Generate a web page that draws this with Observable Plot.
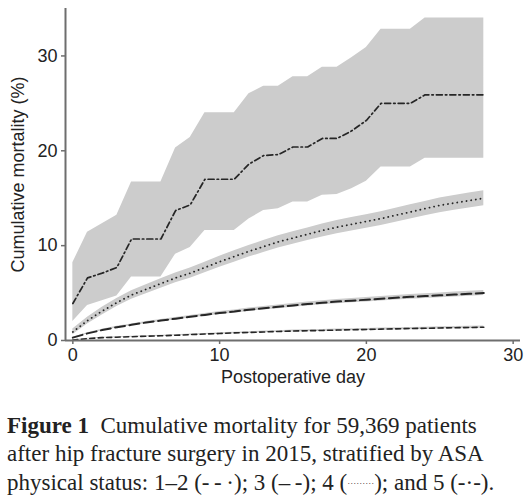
<!DOCTYPE html>
<html>
<head>
<meta charset="utf-8">
<script src="https://cdn.jsdelivr.net/npm/d3@7"></script>
<script src="https://cdn.jsdelivr.net/npm/@observablehq/plot@0.6"></script>
<style>
  html, body { margin: 0; padding: 0; background: #fff; }
  #chart { width: 528px; }
  #caption {
    font-family: "Liberation Serif", "DejaVu Serif", serif;
    font-size: 23px;
    line-height: 28.3px;
    color: #222;
    margin: 17px 0 0 7px;
    white-space: nowrap;
  }
  #caption b { font-weight: bold; }
  #caption .dots { font-size: 9px; letter-spacing: 0px; vertical-align: 4px; }
</style>
</head>
<body>
<div id="chart"></div>
<div id="caption">
  <b>Figure 1</b>&nbsp; Cumulative mortality for 59,369 patients<br>
  after hip fracture surgery in 2015, stratified by ASA<br>
  physical status: 1–2 (-&thinsp;-&thinsp;·); 3 (–&thinsp;-); 4 (<span class="dots">·········</span>); and 5 (-·-).
</div>
<script>
// Postoperative days 0–28
const days = [0,1,2,3,4,5,6,7,8,9,10,11,12,13,14,15,16,17,18,19,20,21,22,23,24,25,26,27,28];

// ASA 5: cumulative mortality (%) with 95% CI
const asa5    = [3.9,6.6,7.1,7.7,10.7,10.7,10.7,13.7,14.3,17.0,17.0,17.0,18.6,19.5,19.6,20.4,20.4,21.3,21.3,22.1,23.2,25.0,25.0,25.0,25.9,25.9,25.9,25.9,25.9];
const asa5Lo  = [2.0,3.7,4.2,4.7,6.7,6.7,6.7,9.1,9.8,11.6,11.6,11.6,12.8,13.7,13.9,14.6,14.6,15.3,15.4,16.0,16.8,18.3,18.3,18.3,19.2,19.2,19.2,19.2,19.2];
const asa5Hi  = [8.2,11.4,12.3,13.2,16.7,16.7,16.7,20.3,21.4,24.0,24.0,24.0,26.0,26.8,26.8,27.8,27.8,28.8,28.8,29.8,30.9,32.8,32.8,32.8,34.0,34.0,34.0,34.0,34.0];

// ASA 4
const asa4    = [0.9,2.1,3.1,4.0,4.8,5.4,6.0,6.6,7.1,7.7,8.3,8.85,9.4,9.9,10.4,10.8,11.2,11.6,11.95,12.25,12.55,12.85,13.2,13.55,13.9,14.25,14.5,14.75,15.0];
const asa4Lo  = [0.6,1.75,2.7,3.58,4.35,4.93,5.5,6.08,6.56,7.14,7.72,8.25,8.79,9.27,9.76,10.14,10.53,10.91,11.25,11.54,11.83,12.12,12.46,12.8,13.14,13.48,13.72,13.96,14.2];
const asa4Hi  = [1.2,2.45,3.5,4.42,5.25,5.87,6.5,7.12,7.64,8.26,8.88,9.45,10.01,10.53,11.04,11.46,11.87,12.29,12.65,12.96,13.27,13.58,13.94,14.3,14.66,15.02,15.28,15.54,15.8];

// ASA 3
const asa3    = [0.3,0.75,1.1,1.4,1.65,1.9,2.1,2.3,2.5,2.7,2.9,3.05,3.25,3.4,3.55,3.7,3.85,3.97,4.1,4.2,4.3,4.4,4.5,4.6,4.68,4.76,4.84,4.92,5.0];
const asa3Lo  = [0.25,0.68,1.02,1.31,1.55,1.79,1.98,2.17,2.36,2.55,2.74,2.88,3.07,3.22,3.36,3.5,3.64,3.76,3.88,3.97,4.07,4.16,4.26,4.35,4.43,4.5,4.58,4.66,4.74];
const asa3Hi  = [0.35,0.82,1.18,1.49,1.75,2.01,2.22,2.43,2.64,2.85,3.06,3.22,3.43,3.58,3.74,3.9,4.06,4.18,4.32,4.43,4.53,4.64,4.74,4.85,4.93,5.02,5.1,5.18,5.26];

// ASA 1–2
const asa12   = [0.05,0.2,0.3,0.35,0.4,0.45,0.5,0.55,0.62,0.68,0.74,0.8,0.85,0.9,0.95,1.0,1.03,1.06,1.1,1.13,1.16,1.2,1.23,1.26,1.29,1.32,1.35,1.37,1.4];
const asa12Lo = [0.03,0.16,0.25,0.3,0.35,0.39,0.44,0.49,0.55,0.61,0.66,0.72,0.77,0.81,0.86,0.9,0.93,0.96,0.99,1.02,1.05,1.09,1.11,1.14,1.17,1.2,1.23,1.25,1.28];
const asa12Hi = [0.07,0.24,0.35,0.4,0.45,0.51,0.56,0.61,0.69,0.75,0.82,0.88,0.93,0.99,1.04,1.1,1.13,1.16,1.21,1.24,1.27,1.31,1.35,1.38,1.41,1.44,1.47,1.49,1.52];

const xTicks = [0, 10, 20, 30];
const yTicks = [0, 10, 20, 30];

const rows = (mid, lo, hi) => days.map((d, i) => ({day: d, mid: mid[i], lo: lo[i], hi: hi[i]}));
const g5 = rows(asa5, asa5Lo, asa5Hi);
const g4 = rows(asa4, asa4Lo, asa4Hi);
const g3 = rows(asa3, asa3Lo, asa3Hi);
const g12 = rows(asa12, asa12Lo, asa12Hi);

const band = "#cccccc";
const ink = "#262626";
const axisGray = "#6e6e6e";

const chart = Plot.plot({
  width: 528,
  height: 395,
  marginLeft: 65,
  marginRight: 8,
  marginTop: 8,
  marginBottom: 55,
  style: {fontFamily: "'Liberation Sans', Arial, sans-serif", fontSize: "18px", color: "#222", background: "#fff"},
  x: {domain: [-0.5, 30.5]},
  y: {domain: [0, 35]},
  marks: [
    // confidence bands
    Plot.areaY(g5,  {x: "day", y1: "lo", y2: "hi", fill: band}),
    Plot.areaY(g4,  {x: "day", y1: "lo", y2: "hi", fill: band}),
    Plot.areaY(g3,  {x: "day", y1: "lo", y2: "hi", fill: band}),
    Plot.areaY(g12, {x: "day", y1: "lo", y2: "hi", fill: band}),
    // estimates
    Plot.lineY(g12, {x: "day", y: "mid", stroke: ink, strokeWidth: 1.6, strokeDasharray: "5,3.5"}),
    Plot.lineY(g3,  {x: "day", y: "mid", stroke: ink, strokeWidth: 2, strokeDasharray: "10,4.5"}),
    Plot.lineY(g4,  {x: "day", y: "mid", stroke: ink, strokeWidth: 1.8, strokeDasharray: "0.1,4.6", strokeLinecap: "round"}),
    Plot.lineY(g5,  {x: "day", y: "mid", stroke: ink, strokeWidth: 1.7, strokeDasharray: "6,3,1.5,3"}),
    // axis lines
    Plot.ruleX([-0.5], {y1: 0, y2: 35, stroke: axisGray, strokeWidth: 2}),
    Plot.ruleY([0], {x1: -0.5, x2: 30.5, stroke: axisGray, strokeWidth: 2}),
    Plot.axisX({ticks: xTicks, tickSize: 4, tickPadding: 4, stroke: axisGray, strokeWidth: 1.5, label: null, fontSize: 18}),
    Plot.axisY({ticks: yTicks, tickSize: 4, tickPadding: 4, stroke: axisGray, strokeWidth: 1.5, label: null, fontSize: 18}),
    // axis titles
    Plot.text(["Postoperative day"], {frameAnchor: "bottom", dy: 42, fontSize: 18, fill: "#222"}),
    Plot.text(["Cumulative mortality (%)"], {frameAnchor: "left", textAnchor: "middle", lineAnchor: "middle", rotate: -90, dx: -47, fontSize: 18, fill: "#222"})
  ]
});
document.getElementById("chart").appendChild(chart);
</script>
</body>
</html>
